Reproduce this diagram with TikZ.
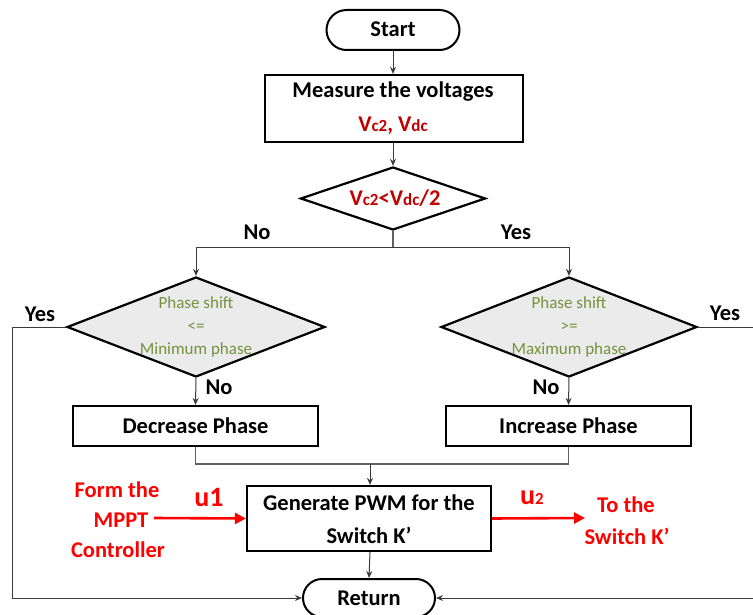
\documentclass[tikz,border=0pt]{standalone}
\usepackage{fontspec}
\setmainfont{Carlito}
\usetikzlibrary{shapes.geometric,shapes.misc,arrows.meta}
\definecolor{dred}{HTML}{C00000}
\definecolor{grn}{HTML}{76923C}
\definecolor{lgray}{HTML}{EBEBEB}
\definecolor{lnc}{HTML}{3A3A3A}
\newcommand{\bigfnt}{\fontsize{22.5}{26}\selectfont\bfseries}
\newcommand{\smfnt}{\fontsize{17}{20}\selectfont}
\newcommand{\subs}[1]{{\fontsize{17}{17}\selectfont #1}}
\begin{document}
\begin{tikzpicture}[x=1pt,y=-1pt,
  box/.style={draw,line width=2.2pt,rectangle,inner sep=0pt},
  term/.style={draw,line width=2pt,rounded rectangle,inner sep=0pt},
  dec/.style={draw,line width=2.2pt,diamond,inner sep=0pt},
  conn/.style={draw=lnc,line width=1pt,-{Stealth[length=7pt,width=6pt]}},
  plain/.style={draw=lnc!80,line width=1.1pt},
  redarr/.style={draw=red,line width=2.6pt,-{Triangle[length=11pt,width=11pt]}},
  txt/.style={inner sep=0pt,font=\bigfnt},
  gtxt/.style={inner sep=0pt,font=\smfnt,text=grn},
  rtxt/.style={inner sep=0pt,font=\bigfnt,text=red}]
\useasboundingbox (0,0) rectangle (753,615);

% nodes
\node[term,minimum width=133,minimum height=40] (start) at (393,30) {};
\node[txt] (startT) at (393,29) {Start};

\node[box,minimum width=258,minimum height=67] (meas) at (394,108.5) {};
\node[txt] (measT1) at (393,92) {Measure the voltages};
\node[txt,text=dred] (measT2) at (393,126) {V\subs{c2}, V\subs{dc}};

\node[dec,minimum width=185,minimum height=63] (d1) at (393,198.5) {};
\node[txt,text=dred] (d1T) at (395,198) {V\subs{c2}<V\subs{dc}/2};

\node[dec,fill=lgray,minimum width=258,minimum height=100] (d2) at (196,327) {};
\node[gtxt] (d2a) at (196,303) {Phase shift};
\node[gtxt] (d2b) at (196,327) {<=};
\node[gtxt] (d2c) at (196,350) {Minimum phase};

\node[dec,fill=lgray,minimum width=256,minimum height=100] (d3) at (569,327) {};
\node[gtxt] (d3a) at (569,303) {Phase shift};
\node[gtxt] (d3b) at (569,327) {>=};
\node[gtxt] (d3c) at (569,350) {Maximum phase};

\node[box,minimum width=245,minimum height=40] (dec) at (195.5,426) {};
\node[txt] (decT) at (195.5,426) {Decrease Phase};
\node[box,minimum width=245,minimum height=40] (inc) at (568.5,426) {};
\node[txt] (incT) at (568.5,426) {Increase Phase};

\node[box,minimum width=244,minimum height=65] (pwm) at (369,518.5) {};
\node[txt] (pwmT1) at (369,503) {Generate PWM for the};
\node[txt] (pwmT2) at (369,535) {Switch K’};

\node[term,minimum width=132,minimum height=38] (ret) at (369,598) {};
\node[txt] (retT) at (369,598) {Return};

% labels
\node[txt] (no1) at (257,232) {No};
\node[txt] (yes1) at (516,232) {Yes};
\node[txt] (yes2) at (40,314) {Yes};
\node[txt] (yes3) at (725,313) {Yes};
\node[txt] (no2) at (219,387) {No};
\node[txt] (no3) at (546,387) {No};

\node[rtxt] (f1) at (117,490) {Form the};
\node[rtxt] (f2) at (121,520) {MPPT};
\node[rtxt] (f3) at (118,550) {Controller};
\node[rtxt,font=\fontsize{28}{30}\selectfont\bfseries] (u1) at (209,498) {u1};
\node[rtxt,font=\fontsize{28}{30}\selectfont\bfseries] (u2) at (532,498) {u\subs{2}};
\node[rtxt] (t1) at (626,505) {To the};
\node[rtxt] (t2) at (627,536) {Switch K’};

% coordinates
\coordinate (j1) at (393,247);
\coordinate (j2) at (370,464);
\coordinate (lft) at (12,327);
\coordinate (rgt) at (762,327);
\coordinate (u1s) at (154,518);
\coordinate (u2e) at (585,518);

% connectors
\draw[conn] (start.south) -- (start.south |- meas.north);
\draw[conn] (d1.north |- meas.south) -- (d1.north);
\draw[plain] (d1.south) -- (j1);
\draw[conn] (j1) -| (d2.north);
\draw[conn] (j1) -| (d3.north);
\draw[conn] (d2.south) -- (dec.north);
\draw[conn] (d3.south) -- (inc.north);
\draw[plain] (dec.south) |- (j2) -| (inc.south);
\draw[conn] (j2) -- (j2 |- pwm.north);
\draw[conn] (j2 |- pwm.south) -- (ret.north);
\draw[conn] (d2.west) -- (lft) |- (ret.west);
\draw[conn] (d3.east) -- (rgt) |- (ret.east);
\draw[redarr] (u1s) -- (pwm.west);
\draw[redarr] (pwm.east) -- (u2e);
\end{tikzpicture}
\end{document}
